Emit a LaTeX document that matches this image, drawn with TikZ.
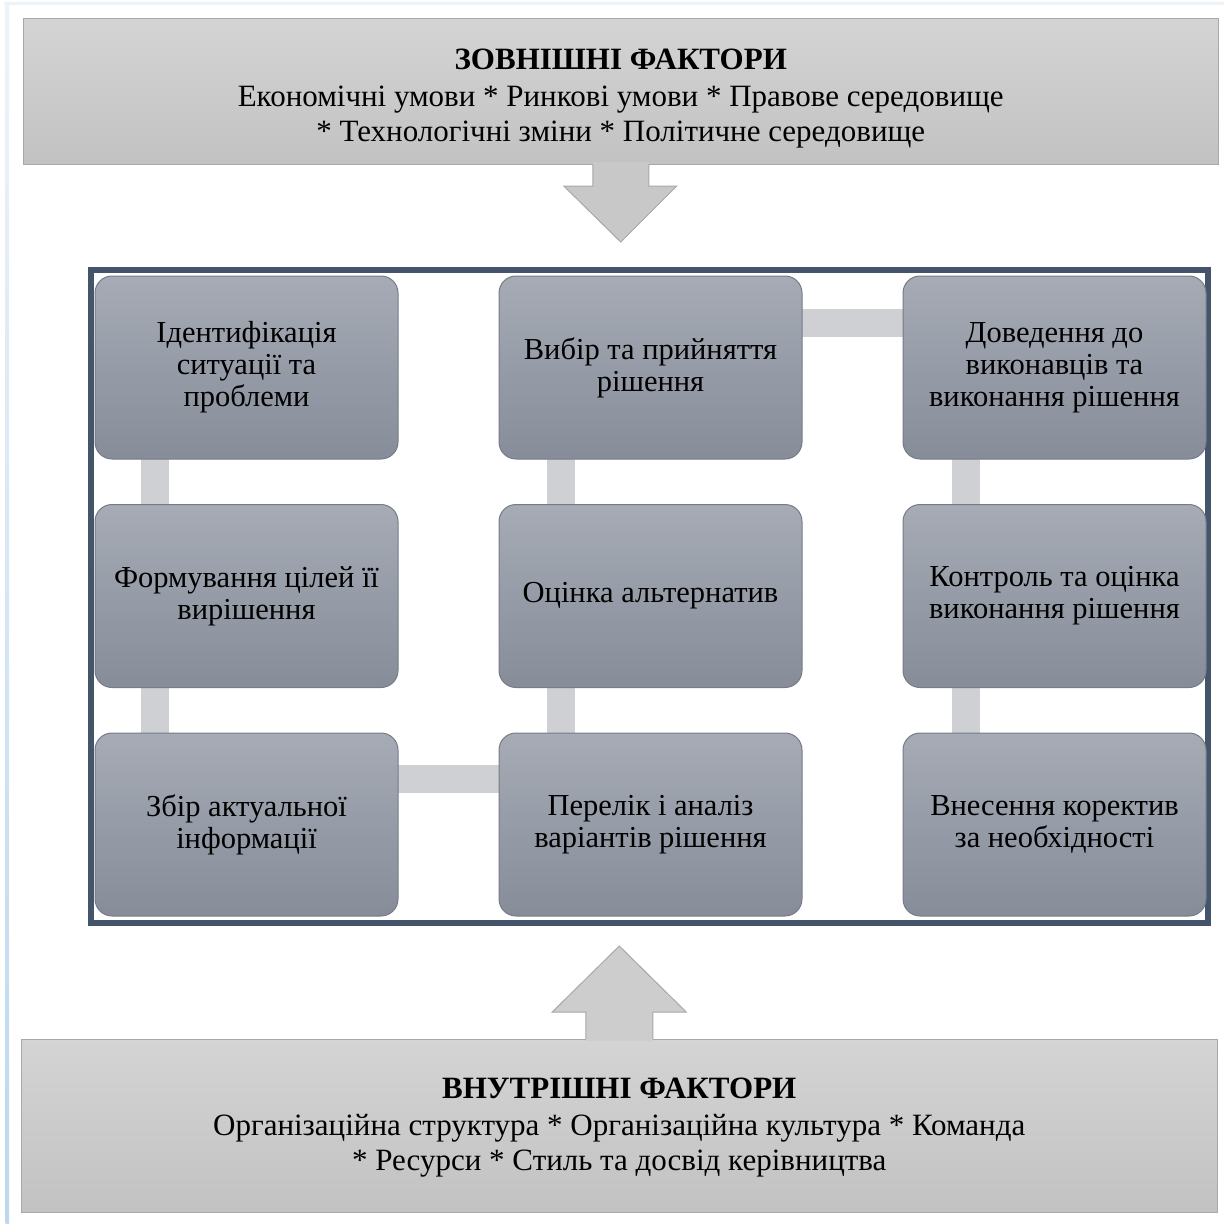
\documentclass[tikz,border=0pt]{standalone}
\usepackage{fontspec}
\setmainfont{Liberation Serif}
\usetikzlibrary{calc,backgrounds}
\definecolor{boxtop}{HTML}{A6ABB5}
\definecolor{boxbot}{HTML}{868D99}
\definecolor{boxedge}{HTML}{767C87}
\definecolor{conncol}{HTML}{CFD0D4}
\definecolor{factop}{HTML}{D4D4D4}
\definecolor{facbot}{HTML}{C2C2C2}
\definecolor{facedge}{HTML}{A8A8A8}
\definecolor{framecol}{HTML}{44546A}
\definecolor{pageblue}{HTML}{BDD7EE}
\definecolor{pagefaint}{HTML}{EEF3FA}
\definecolor{arrowtopcol}{HTML}{C8C8C8}
\definecolor{arrowbotcol}{HTML}{CDCDCD}
\newcommand{\stepfont}{\fontsize{30.5}{32}\selectfont}
\newcommand{\factfont}{\fontsize{31}{35}\selectfont}
\begin{document}
\begin{tikzpicture}[x=1pt,y=-1pt,outer sep=0pt,
  stepbox/.style={rounded corners=17pt, draw=boxedge, line width=1pt,
    top color=boxtop, bottom color=boxbot, minimum width=303pt,
    minimum height=183pt, anchor=north west, align=center, inner sep=0pt,
    font=\stepfont, text=black},
  factbox/.style={draw=facedge, line width=1pt, top color=factop,
    bottom color=facbot, anchor=north west, inner sep=0pt},
  facttext/.style={align=center, inner sep=0pt, font=\factfont, text=black},
  conn/.style={draw=conncol, line width=28pt},
  arrowedge/.style={draw=facedge, line width=1pt, line join=miter},
]
\useasboundingbox (0,0) rectangle (1224,1224);
% page edge
\fill[pagefaint] (4,2) rectangle (1224,5);
\shade[top color=pagefaint, bottom color=pageblue] (5.5,2) rectangle (9,1224);

% factor boxes
\node[factbox, minimum width=1194.5pt, minimum height=146pt] (ext) at (23.5,18) {};
\node[facttext] (exttext) at ($(ext.center)+(0,8)$)
  {\textbf{ЗОВНІШНІ ФАКТОРИ}\\[2pt]Економічні умови * Ринкові умови * Правове середовище\\* Технологічні зміни * Політичне середовище};
\node[factbox, minimum width=1196.5pt, minimum height=173pt] (int) at (21,1039) {};
\node[facttext] (inttext) at ($(int.center)+(0,2)$)
  {\textbf{ВНУТРІШНІ ФАКТОРИ}\\[2pt]Організаційна структура * Організаційна культура * Команда\\* Ресурси * Стиль та досвід керівництва};

% frame
\node[draw=framecol, line width=6pt, minimum width=1116.5pt, minimum height=652.5pt,
  anchor=north west, inner sep=0pt] (frame) at (91,270) {};

% big arrows
\fill[arrowtopcol] ($(ext.south)+(-28,-2)$) -- ($(ext.south)+(-28,22)$) -- ($(ext.south)+(-57,22)$)
  -- ($(ext.south)+(0,78)$) -- ($(ext.south)+(56,22)$) -- ($(ext.south)+(28,22)$)
  -- ($(ext.south)+(28,-2)$) -- cycle;
\draw[arrowedge] ($(ext.south)+(-28,0)$) -- ($(ext.south)+(-28,22)$) -- ($(ext.south)+(-57,22)$)
  -- ($(ext.south)+(0,78)$) -- ($(ext.south)+(56,22)$) -- ($(ext.south)+(28,22)$)
  -- ($(ext.south)+(28,0)$);
\fill[arrowbotcol] ($(int.north)+(-33.5,2)$) -- ($(int.north)+(-33.5,-27)$) -- ($(int.north)+(-67,-27)$)
  -- ($(int.north)+(0,-93)$) -- ($(int.north)+(67,-27)$) -- ($(int.north)+(33.5,-27)$)
  -- ($(int.north)+(33.5,2)$) -- cycle;
\draw[arrowedge] ($(int.north)+(-33.5,0)$) -- ($(int.north)+(-33.5,-27)$) -- ($(int.north)+(-67,-27)$)
  -- ($(int.north)+(0,-93)$) -- ($(int.north)+(67,-27)$) -- ($(int.north)+(33.5,-27)$)
  -- ($(int.north)+(33.5,0)$);

% steps
\node[stepbox] (s11) at (95,276) {Ідентифікація\\ситуації та\\проблеми};
\node[stepbox] (s21) at (95,504.5) {Формування цілей її\\вирішення};
\node[stepbox] (s31) at (95,733) {Збір актуальної\\інформації};
\node[stepbox] (s32) at (499,733) {Перелік і аналіз\\варіантів рішення};
\node[stepbox] (s22) at (499,504.5) {Оцінка альтернатив};
\node[stepbox] (s12) at (499,276) {Вибір та прийняття\\рішення};
\node[stepbox] (s13) at (903,276) {Доведення до\\виконавців та\\виконання рішення};
\node[stepbox] (s23) at (903,504.5) {Контроль та оцінка\\виконання рішення};
\node[stepbox] (s33) at (903,733) {Внесення коректив\\за необхідності};

% connectors
\begin{scope}[on background layer]
\draw[conn] ($(s11.north west)+(60,0)$) -- ($(s21.north west)+(60,0)$);
\draw[conn] ($(s21.north west)+(60,0)$) -- ($(s31.north west)+(60,0)$);
\draw[conn] ($(s31.north west)+(0,46)$) -- ($(s32.north west)+(0,46)$);
\draw[conn] ($(s32.north west)+(62,0)$) -- ($(s22.north west)+(62,0)$);
\draw[conn] ($(s22.north west)+(62,0)$) -- ($(s12.north west)+(62,0)$);
\draw[conn] ($(s12.north west)+(0,47)$) -- ($(s13.north west)+(0,47)$);
\draw[conn] ($(s13.north west)+(63,0)$) -- ($(s23.north west)+(63,0)$);
\draw[conn] ($(s23.north west)+(63,0)$) -- ($(s33.north west)+(63,0)$);
\end{scope}
\end{tikzpicture}
\end{document}
